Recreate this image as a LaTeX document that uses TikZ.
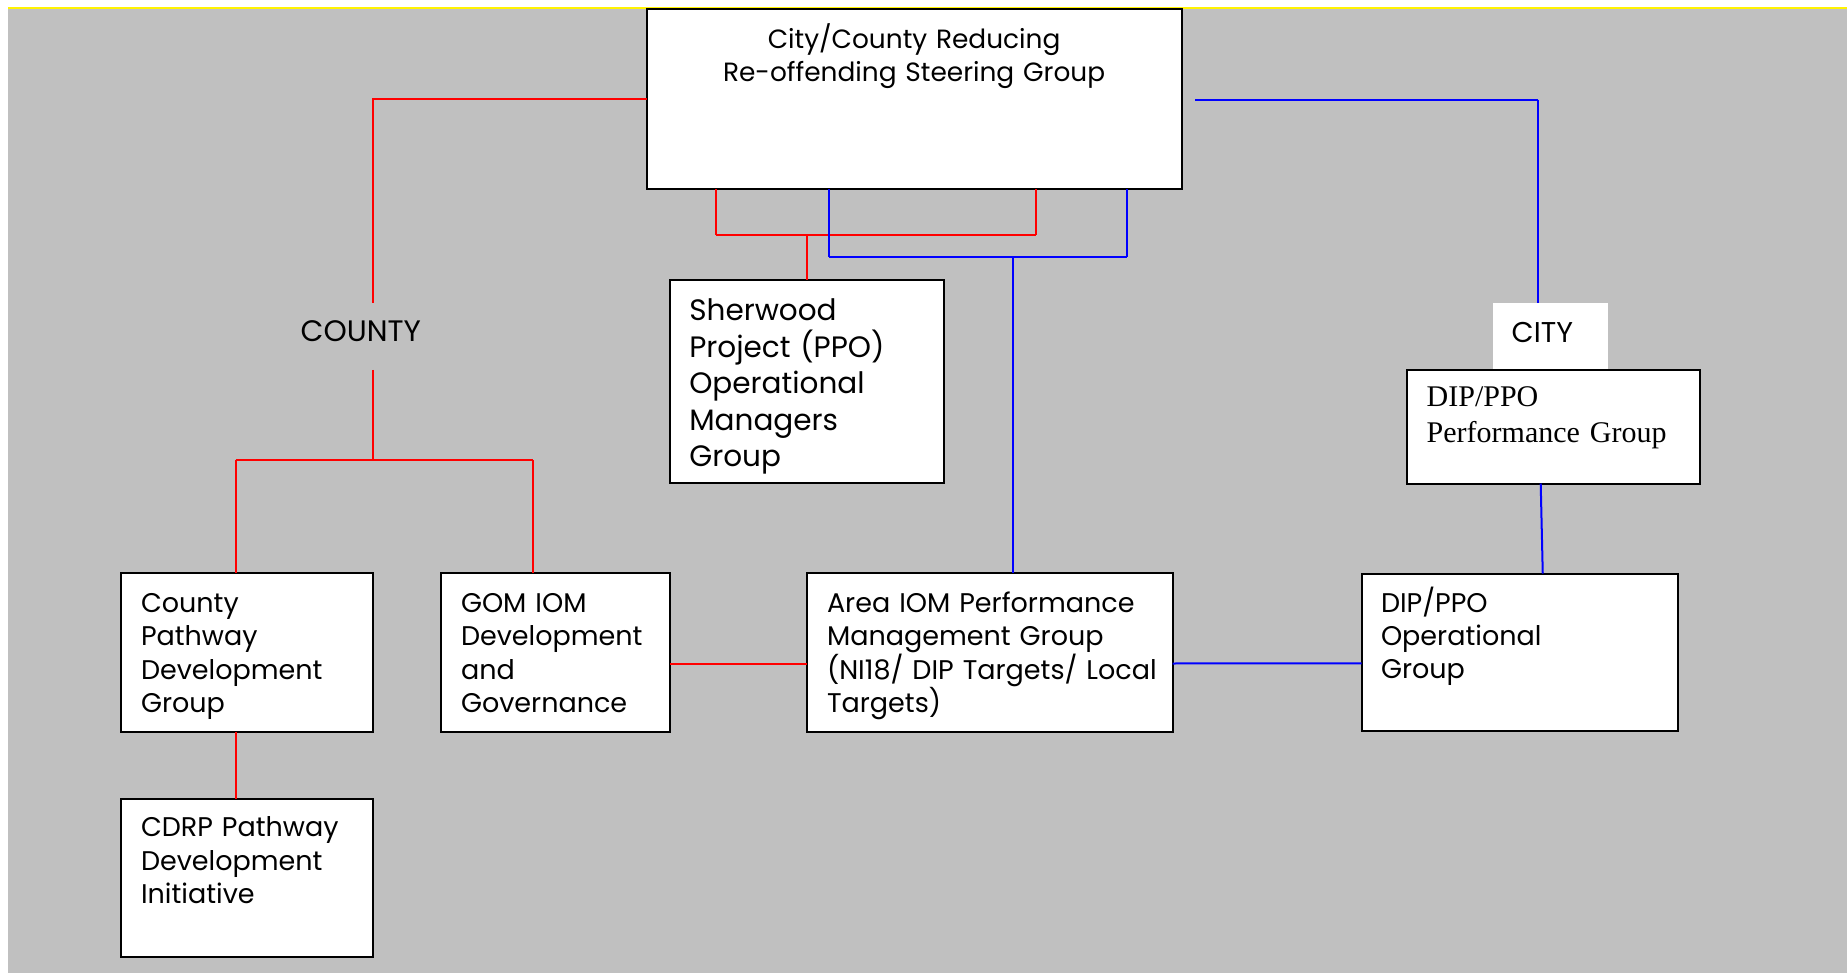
\documentclass[tikz,border=0pt]{standalone}
\usepackage{fontspec}
\usepackage{tikz}

% gothic sans for most labels, a Times face for the DIP/PPO performance box
\newfontfamily{\gothic}{Poppins}
\newfontfamily{\timesrm}{Liberation Serif}
\definecolor{panelgray}{RGB}{192,192,192}

\begin{document}
\begin{tikzpicture}
	[x=1pt,y=-1pt,line width=2pt,
	 every node/.style={anchor=north west,outer sep=0pt,inner ysep=0pt,align=left},
	 frame/.style n args={4}{inner xsep=#1,text width=#2,text height=#3,text depth=#4},
	 box/.style={draw,fill=white,font={\gothic\fontsize{27}{33.4}\selectfont}},
	 tag/.style={font={\gothic\fontsize{28.6}{34}\selectfont}},
	 redline/.style={draw=red},
	 blueline/.style={draw=blue}]
	\useasboundingbox (0,0) rectangle (1847,973);
	\fill[white] (0,0) rectangle (1847,973);
	\fill[panelgray] (8,9) rectangle (1847,973);
	\draw[yellow,line width=1.5pt] (8,8) -- (1847,8);

	% boxes
	\node[box,frame={10}{515.2}{38.8}{141.2},align=center,font={\gothic\fontsize{26.4}{33.4}\selectfont}] (steer) at (646.5,9.5)
		{City/County Reducing\\Re-offending Steering Group};
	\node[box,frame={19.3}{235.4}{41}{162.3},font={\gothic\fontsize{29.5}{36.5}\selectfont}] (sherwood) at (670,280)
		{Sherwood\\Project (PPO)\\Operational\\Managers\\Group};
	\node[box,frame={19.6}{212.6}{39}{119.4}] (cpd) at (121.4,573.3)
		{County\\Pathway\\Development\\Group};
	\node[box,frame={20}{189}{39}{119.4}] (gom) at (441,573.3)
		{GOM IOM\\Development\\and\\Governance};
	\node[box,frame={20}{325.7}{39}{119.4}] (area) at (807,573.3)
		{Area IOM Performance\\Management Group\\\mbox{(NI18/ DIP Targets/ Local}\\Targets)};
	\node[box,frame={19.5}{277.5}{38.5}{119}] (dipop) at (1361.5,573.5)
		{DIP/PPO\\Operational\\Group};
	\node[box,frame={19.6}{212.6}{38}{120.6}] (cdrp) at (121.4,798.7)
		{CDRP Pathway\\Development\\Initiative};
	\node[box,frame={20}{253.6}{36.7}{76.8},font={\timesrm\fontsize{30}{35.6}\selectfont}] (dipperf) at (1406.7,370)
		{DIP/PPO\\Performance Group};

	% area labels
	\node[tag,frame={13.7}{120.6}{39}{28},font={\gothic\fontsize{29.6}{34}\selectfont}] (county) at (287,303) {COUNTY};
	\node[tag,fill=white,frame={18.4}{77.6}{39}{27.2}] (city) at (1493.3,303.3) {CITY};

	% corner points of the connectors
	\coordinate (cj) at (373,460);
	\coordinate (cl) at (235.7,460);
	\coordinate (cr) at (532.6,460);
	\coordinate (sa) at (715.7,235);
	\coordinate (sb) at (1035.7,235);
	\coordinate (ba) at (829,257.3);
	\coordinate (bb) at (1126.8,257.3);
	\coordinate (bd) at (1012.5,257.3);
	\coordinate (cs) at (1195,99.7);
	\coordinate (cc) at (1538.3,99.7);

	% county side
	\draw[redline] (steer.west) -| (cj |- county.north);
	\foreach \from/\to in {cj |- county.south/cj, cl/cr, cl/cl |- cpd.north, cr/cr |- gom.north,
		cl |- cpd.south/cl |- cdrp.north, sa |- steer.south/sa, sa/sb, sb/sb |- steer.south,
		sherwood.north |- sa/sherwood.north}
		\draw[redline] (\from) -- (\to);
	\draw[redline] ([yshift=-11pt]gom.east) -- ([yshift=-11pt]area.west);

	% city side
	\foreach \from/\to in {ba |- steer.south/ba, ba/bb, bb/bb |- steer.south, bd/bd |- area.north,
		cs/cc, cc/cc |- city.north}
		\draw[blueline] (\from) -- (\to);
	\draw[blueline] ([xshift=-12.8pt]dipperf.south) -- ([xshift=23pt]dipop.north);
	\draw[blueline] ([yshift=-11pt]area.east) -- ([yshift=-11pt]dipop.west);
\end{tikzpicture}
\end{document}
